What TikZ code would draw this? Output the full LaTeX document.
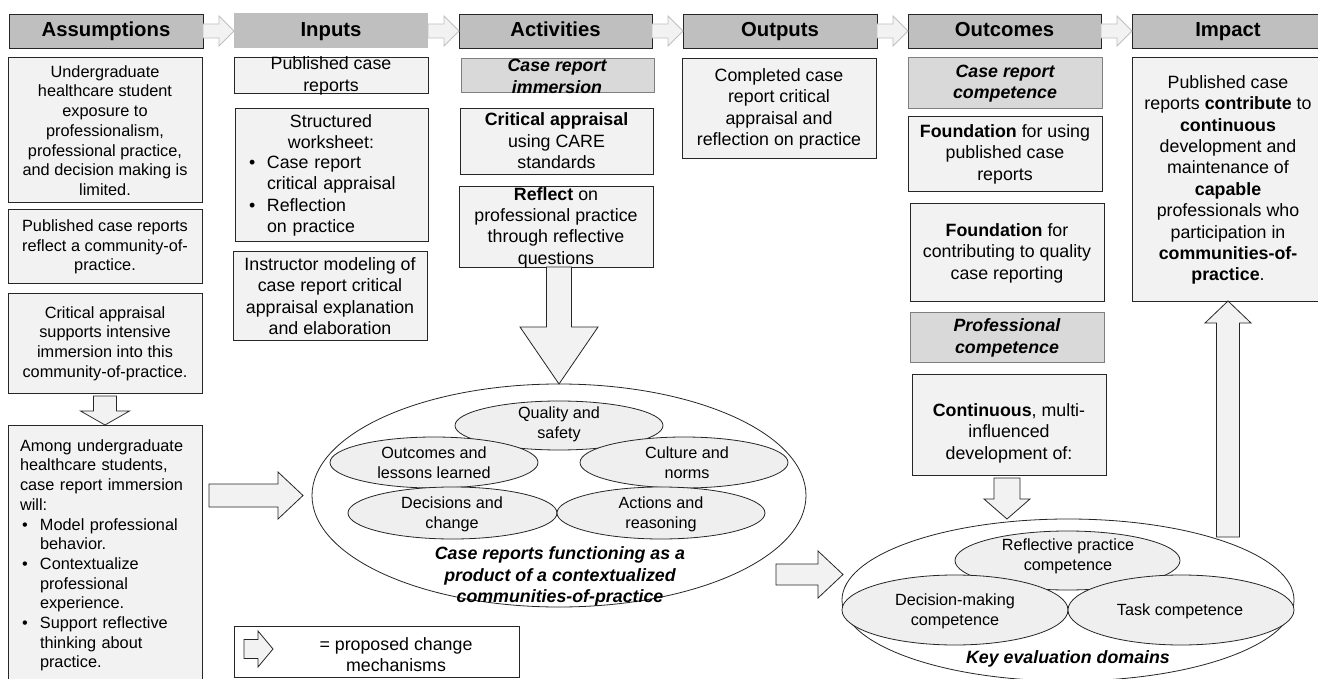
\documentclass[tikz,border=0pt]{standalone}
\usepackage{fontspec}
\setmainfont{Liberation Sans}
\usetikzlibrary{calc,shapes.geometric}
\definecolor{hdrc}{HTML}{BFBFBF}
\definecolor{subc}{HTML}{D9D9D9}
\definecolor{bodyc}{HTML}{F2F2F2}
\definecolor{ellc}{HTML}{EFEFEF}
\definecolor{edgec}{HTML}{262626}
\definecolor{subedge}{HTML}{7F7F7F}
\newcommand{\mybox}[6]{%
  \pgfmathsetmacro{\myBW}{#4-#2}\pgfmathsetmacro{\myBH}{#5-#3}%
  \pgfmathsetmacro{\myCX}{(#2+#4)/2}\pgfmathsetmacro{\myCY}{(#3+#5)/2}%
  \node[#6, minimum width=\myBW pt, minimum height=\myBH pt] (#1) at (\myCX,\myCY) {};}
\newcommand{\blockarrow}[6]{%
  \coordinate (abase) at ($(#3)!#6pt!(#2)$);
  \draw[#1] ($(#2)!#4pt!90:(#3)$) -- ($(abase)!#4pt!90:(#3)$) -- ($(abase)!#5pt!90:(#3)$) -- (#3)
    -- ($(abase)!#5pt!-90:(#3)$) -- ($(abase)!#4pt!-90:(#3)$) -- ($(#2)!#4pt!-90:(#3)$) -- cycle;}
\begin{document}
\begin{tikzpicture}[x=1pt,y=-1pt,
  every node/.style={inner sep=0pt, outer sep=0pt},
  hdrfont/.style={font=\fontsize{20.3}{24}\selectfont\bfseries, text height=14.6pt, text depth=4.2pt},
  hdr/.style={draw=edgec, fill=hdrc, line width=0.9pt, hdrfont},
  bodybox/.style={draw=edgec, fill=bodyc, line width=0.9pt},
  subbox/.style={draw=subedge, fill=subc, line width=0.9pt},
  atext/.style={align=center, font=\fontsize{16.3}{19.7}\selectfont},
  btext/.style={align=center, font=\fontsize{17.8}{21.4}\selectfont},
  stext/.style={align=center, font=\fontsize{17.8}{21.4}\selectfont\bfseries\itshape},
  etext/.style={align=center, font=\fontsize{16.2}{20}\selectfont},
  bigell/.style={ellipse, draw=edgec, fill=white, line width=0.8pt},
  smell/.style={ellipse, draw=edgec, fill=ellc, line width=0.8pt},
  barrow/.style={draw=edgec, fill=bodyc, line width=0.8pt, line join=miter},
  harrow/.style={draw=hdrc, fill=bodyc, line width=0.8pt, line join=miter},
]
\useasboundingbox (0,0) rectangle (1318,679);
\fill[white] (0,0) rectangle (1318,679);

% headers
\node[hdr, minimum width=194pt, minimum height=34pt] (h1) at (106,31) {Assumptions};
\node[fill=hdrc, hdrfont, minimum width=194pt, minimum height=35pt] (h2) at (331,31) {Inputs};
\node[hdr, minimum width=193pt, minimum height=34pt] (h3) at (555.5,31) {Activities};
\node[hdr, minimum width=194pt, minimum height=34pt] (h4) at (780,31) {Outputs};
\node[hdr, minimum width=193pt, minimum height=34pt] (h5) at (1004.5,31) {Outcomes};
\node[hdr, minimum width=192pt, minimum height=34pt] (h6) at (1228,31) {Impact};
\blockarrow{harrow}{h1.east}{h2.west}{7}{15}{15}
\blockarrow{harrow}{h2.east}{h3.west}{7}{15}{15}
\blockarrow{harrow}{h3.east}{h4.west}{7}{15}{15}
\blockarrow{harrow}{h4.east}{h5.west}{7}{15}{15}
\blockarrow{harrow}{h5.east}{h6.west}{7}{15}{15}

% assumptions
\mybox{a1}{8}{57}{202}{202}{bodybox}
\node[atext] (a1t) at (105,130.5) {Undergraduate\\healthcare student\\exposure to\\professionalism,\\professional practice,\\and decision making is\\limited.};
\mybox{a2}{8}{209}{202}{283}{bodybox}
\node[atext] (a2t) at (105,247) {Published case reports\\reflect a community-of-\\practice.};
\mybox{a3}{8}{293}{202}{393}{bodybox}
\node[atext] (a3t) at (105,343.5) {Critical appraisal\\supports intensive\\immersion into this\\community-of-practice.};
\mybox{a4}{8}{425}{202}{700}{bodybox}
\node[atext, align=left, text width=180pt, anchor=west] (a4t) at (20,555.4) {Among undergraduate\\healthcare students,\\case report immersion\\will:\\
\makebox[20pt][l]{\hspace{2pt}•}Model professional\\\hspace*{20pt}behavior.\\
\makebox[20pt][l]{\hspace{2pt}•}Contextualize\\\hspace*{20pt}professional\\\hspace*{20pt}experience.\\
\makebox[20pt][l]{\hspace{2pt}•}Support reflective\\\hspace*{20pt}thinking about\\\hspace*{20pt}practice.};

% inputs
\mybox{i1}{234}{57}{428}{93}{bodybox}
\node[btext] (i1t) at (331,76) {Published case\\reports};
\mybox{i2}{235}{108}{428}{241}{bodybox}
\node[btext] (i2a) at (331,131.5) {Structured\\worksheet:};
\node[btext, align=left, text width=175pt, anchor=west] (i2b) at (247,196) {\makebox[20pt][l]{\hspace{2pt}•}Case report\\\hspace*{20pt}critical appraisal\\\makebox[20pt][l]{\hspace{2pt}•}Reflection\\\hspace*{20pt}on practice};
\mybox{i3}{233}{251}{427}{340}{bodybox}
\node[btext] (i3t) at (330,296) {Instructor modeling of\\case report critical\\appraisal explanation\\and elaboration};

% activities
\mybox{ac1}{461}{58}{654}{92}{subbox}
\node[stext] (ac1t) at (557,76.5) {Case report\\immersion};
\mybox{ac2}{460}{108}{653}{174}{bodybox}
\node[btext] (ac2t) at (556.5,141) {\textbf{Critical appraisal}\\using CARE\\standards};
\mybox{ac3}{459}{186}{653}{267}{bodybox}
\node[btext] (ac3t) at (556,227.5) {\textbf{Reflect} on\\professional practice\\through reflective\\questions};

% outputs
\mybox{out1}{682}{58}{876}{158}{bodybox}
\node[btext] (out1t) at (779,109) {Completed case\\report critical\\appraisal and\\reflection on practice};

% outcomes
\mybox{o1}{908}{57}{1102}{108}{subbox}
\node[stext] (o1t) at (1005,83.5) {Case report\\competence};
\mybox{o2}{908}{116}{1102}{191}{bodybox}
\node[btext] (o2t) at (1005,154) {\textbf{Foundation} for using\\published case\\reports};
\mybox{o3}{910}{203}{1104}{301}{bodybox}
\node[btext] (o3t) at (1007,253) {\textbf{Foundation} for\\contributing to quality\\case reporting};
\mybox{o4}{910}{312}{1104}{362}{subbox}
\node[stext] (o4t) at (1007,338) {Professional\\competence};
\mybox{o5}{912}{374}{1106}{475}{bodybox}
\node[btext] (o5t) at (1009,433) {\textbf{Continuous}, multi-\\influenced\\development of:};

% impact
\mybox{imp}{1132}{57}{1324}{301}{bodybox}
\node[btext] (impt) at (1228,180) {Published case\\reports \textbf{contribute} to\\\textbf{continuous}\\development and\\maintenance of\\\textbf{capable}\\professionals who\\participation in\\\textbf{communities-of-}\\\textbf{practice}.};

% ellipse 1
\node[bigell, minimum width=494pt, minimum height=223pt] (e1) at (559,495.5) {};
\node[smell, minimum width=208pt, minimum height=49pt] (q) at (559,425.5) {};
\node[smell, minimum width=208pt, minimum height=51pt] (oc) at (434,462.5) {};
\node[smell, minimum width=208pt, minimum height=51pt] (cu) at (684,462.5) {};
\node[smell, minimum width=209pt, minimum height=52pt] (de) at (452.5,513) {};
\node[smell, minimum width=208pt, minimum height=52pt] (acn) at (661,513) {};
\node[etext] (qt) at (559,424) {Quality and\\safety};
\node[etext] (oct) at (434,463) {Outcomes and\\lessons learned};
\node[etext] (cut) at (687,463) {Culture and\\norms};
\node[etext] (det) at (452,514) {Decisions and\\change};
\node[etext] (actt) at (661,514) {Actions and\\reasoning};
\node[stext] (ce1) at (560,576.5) {Case reports functioning as a\\product of a contextualized\\communities-of-practice};

% ellipse 2
\node[bigell, minimum width=452pt, minimum height=162pt] (e2) at (1068,600) {};
\node[smell, minimum width=225pt, minimum height=59pt] (rp) at (1067.5,560.5) {};
\node[smell, minimum width=226pt, minimum height=70pt] (dm) at (955,610) {};
\node[smell, minimum width=226pt, minimum height=70pt] (tc) at (1181,610) {};
\node[etext] (rpt) at (1068,556) {Reflective practice\\competence};
\node[etext] (dmt) at (955,611.5) {Decision-making\\competence};
\node[etext] (tct) at (1180,611) {Task competence};
\node[stext] (ke) at (1068,659) {Key evaluation domains};

% legend
\mybox{leg}{234}{626}{519}{677}{draw=edgec, fill=white, line width=0.9pt}
\node[btext] (legt) at (396,654.5) {= proposed change\\mechanisms};

% block arrows
\coordinate (d1s) at ($(a3.south)+(0,3)$);
\blockarrow{barrow}{d1s}{a4.north}{11.5}{24.5}{14}
\coordinate (r1s) at ($(a4.east |- e1.west)+(7,0)$);
\coordinate (r1e) at ($(e1.west)+(-9,0)$);
\blockarrow{barrow}{r1s}{r1e}{11.5}{23.5}{25}
\coordinate (d2s) at (e1.north |- ac3.south);
\blockarrow{barrow}{d2s}{e1.north}{12.5}{39}{57}
\coordinate (r2s) at (776,574.5);
\coordinate (r2e) at (843,574.5);
\blockarrow{barrow}{r2s}{r2e}{10.5}{23.5}{25}
\coordinate (d3s) at ($(o5.south)+(-2,3)$);
\coordinate (d3e) at ($(o5.south)+(-2,44)$);
\blockarrow{barrow}{d3s}{d3e}{13}{23}{20}
\coordinate (u1s) at ($(imp.south)+(0,236)$);
\blockarrow{barrow}{u1s}{imp.south}{11.5}{23}{22}
\coordinate (l1s) at ($(leg.west)+(10,-2.5)$);
\coordinate (l1e) at ($(leg.west)+(39,-2.5)$);
\blockarrow{barrow}{l1s}{l1e}{9.5}{18}{15}
\end{tikzpicture}
\end{document}
